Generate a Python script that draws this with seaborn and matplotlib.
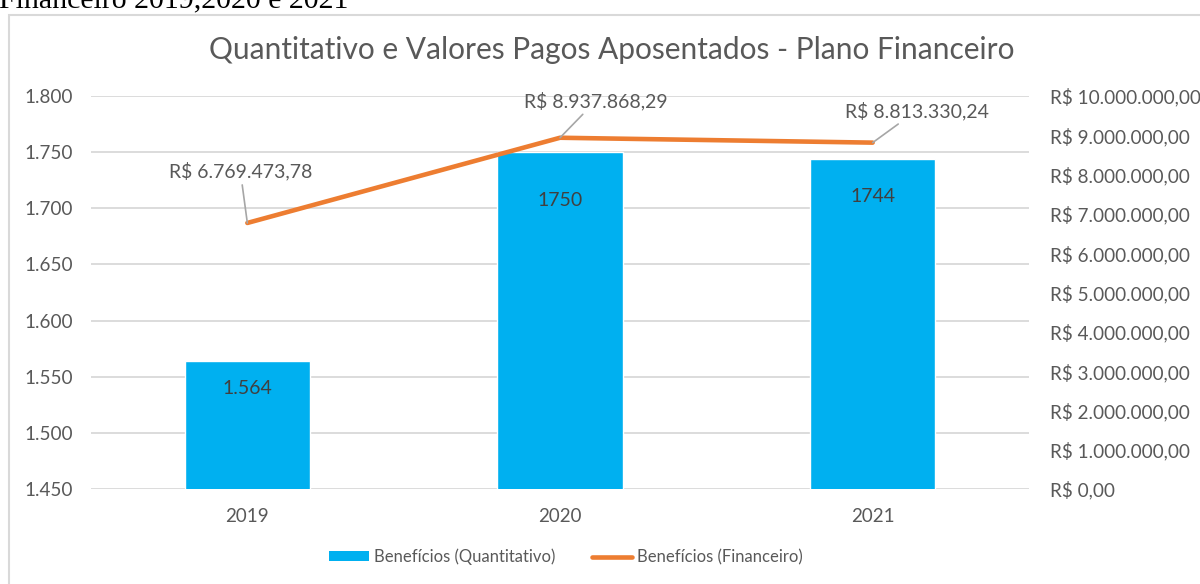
import matplotlib
matplotlib.use('Agg')
import matplotlib.pyplot as plt
import seaborn as sns
import pandas as pd
from matplotlib.patches import Rectangle, Patch
from matplotlib.lines import Line2D
from matplotlib.ticker import FuncFormatter, MultipleLocator

years = ['2019', '2020', '2021']
quantitativo = [1564, 1750, 1744]
financeiro = [6769473.78, 8937868.29, 8813330.24]
bar_labels = ['1.564', '1750', '1744']
fin_labels = ['R$ 6.769.473,78', 'R$ 8.937.868,29', 'R$ 8.813.330,24']
title = 'Quantitativo e Valores Pagos Aposentados - Plano Financeiro'
caption = 'Financeiro 2019,2020 e 2021'
legend_labels = ['Benefícios (Quantitativo)', 'Benefícios (Financeiro)']

BLUE = '#00B0F0'
ORANGE = '#ED7D31'
GREY = '#595959'

sns.set_theme(style='white')
plt.rcParams['font.family'] = ['Lato', 'DejaVu Sans']

W, H = 1200, 584
fig = plt.figure(figsize=(W / 100, H / 100), dpi=100)
ax = fig.add_axes([91 / W, 1 - 489 / H, (1029 - 91) / W, (489 - 96) / H])

df = pd.DataFrame({'ano': years, 'q': quantitativo, 'f': financeiro})
sns.barplot(data=df, x='ano', y='q', color=BLUE, width=0.4, saturation=1, ax=ax, zorder=2)
ax.set_ylim(1450, 1800)
ax.yaxis.set_major_locator(MultipleLocator(50))
ax.yaxis.set_major_formatter(FuncFormatter(lambda v, p: f"{int(round(v)):,}".replace(',', '.')))
ax.grid(axis='y', color='#d9d9d9', linewidth=1.3, zorder=0)
ax.set_axisbelow(True)
ax.set_xlabel('')
ax.set_ylabel('')
for s in ax.spines.values():
    s.set_visible(False)
ax.tick_params(axis='y', length=0, pad=13, labelsize=13.6, labelcolor=GREY)
ax.tick_params(axis='x', length=0, pad=14, labelsize=13.5, labelcolor=GREY)

for i, (v, lbl) in enumerate(zip(quantitativo, bar_labels)):
    off = {0: -28, 1: -48, 2: -38}[i]
    ax.annotate(lbl, xy=(i, v), xytext=(0, off), textcoords='offset pixels',
                ha='center', va='center', fontsize=14, color='#404040')

ax2 = ax.twinx()
sns.lineplot(data=df, x='ano', y='f', ax=ax2, color=ORANGE, linewidth=3.3, sort=False)
ax2.set_ylim(0, 10_000_000)
ax2.yaxis.set_major_locator(MultipleLocator(1_000_000))


def brl(v, p):
    s = f"{v:,.2f}"
    s = s.replace(',', 'X').replace('.', ',').replace('X', '.')
    return 'R$ ' + s


ax2.yaxis.set_major_formatter(FuncFormatter(brl))
ax2.set_ylabel('')
ax2.set_xlabel('')
for s in ax2.spines.values():
    s.set_visible(False)
ax2.tick_params(axis='y', length=0, pad=15, labelsize=13.6, labelcolor=GREY)
ax2.grid(False)

offsets = [(-7, 52), (36, 37), (44, 32)]
for i, (v, lbl) in enumerate(zip(financeiro, fin_labels)):
    ax2.annotate(lbl, xy=(i, v), xytext=offsets[i], textcoords='offset pixels',
                 ha='center', va='center', fontsize=14, color=GREY,
                 arrowprops=dict(arrowstyle='-', color='#a6a6a6', lw=1.2,
                                 shrinkA=1, shrinkB=0))

ax.set_xlim(-0.5, 2.5)
ax2.set_xlim(-0.5, 2.5)

fig.text(612 / W, 1 - 50 / H, title, ha='center', va='center', fontsize=21.5, color=GREY)

handles = [Patch(facecolor=BLUE, edgecolor='none'),
           Line2D([0], [0], color=ORANGE, linewidth=3.3)]
fig.legend(handles, legend_labels, loc='center', bbox_to_anchor=(566 / W, 1 - 557 / H),
           ncol=2, frameon=False, fontsize=12, labelcolor=GREY,
           handlelength=2.4, handleheight=0.55, handletextpad=0.3, columnspacing=2.2)

fig.patches.append(Rectangle((8.5 / W, -0.05), 1.2, (H - 14.5) / H + 0.05,
                             transform=fig.transFigure, fill=False,
                             edgecolor='#d9d9d9', linewidth=1.5))
fig.text(-1 / W, 1 - 7 / H, caption, ha='left', va='baseline',
         fontsize=21.5, family=['Liberation Serif', 'DejaVu Serif'], color='black')

fig.savefig('out.png', dpi=100)
